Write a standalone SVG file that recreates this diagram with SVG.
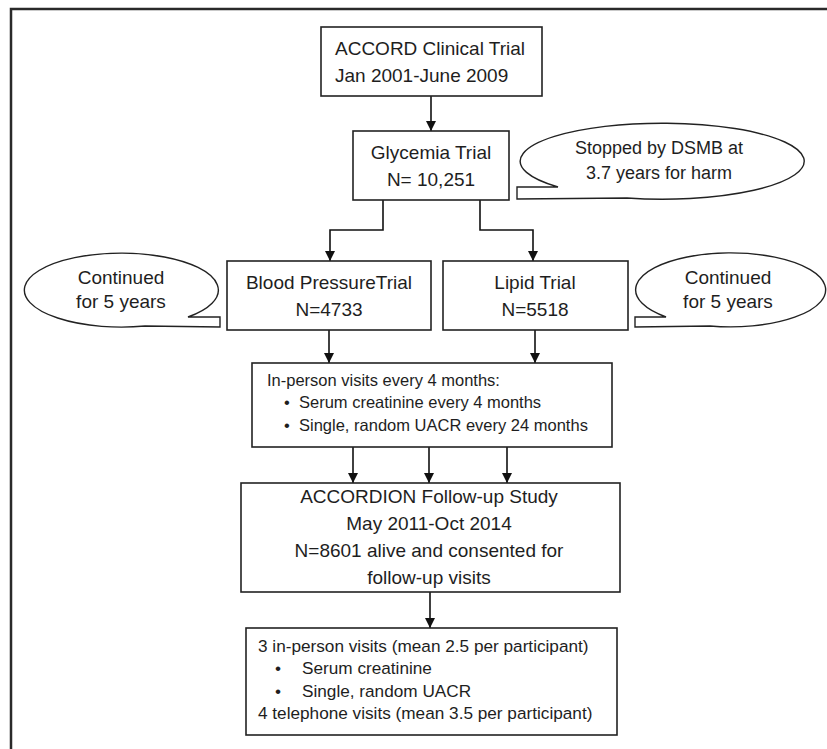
<svg xmlns="http://www.w3.org/2000/svg" width="827" height="749" viewBox="0 0 827 749">
<style>
  .box { fill: #ffffff; stroke: #222222; stroke-width: 1.6; }
  .call { fill: #ffffff; stroke: #222222; stroke-width: 1.4; stroke-linejoin: miter; }
  .frame { fill: none; stroke: #2a2a2a; stroke-width: 2.5; }
  .conn { fill: none; stroke: #111111; stroke-width: 1.6; }
  text { font-family: "Liberation Sans", Arial, sans-serif; fill: #1e1e1e; }
  .big { font-size: 19px; }
  .mid { font-size: 16.5px; }
  .fin { font-size: 17.2px; }
  .c { text-anchor: middle; }
</style>
<defs>
  <marker id="arrow" viewBox="0 0 10 10" refX="10" refY="5" markerWidth="10" markerHeight="10" markerUnits="userSpaceOnUse" orient="auto">
    <path d="M0,0 L10,5 L0,10 Z" fill="#111111"/>
  </marker>
</defs>
<rect x="0" y="0" width="827" height="749" fill="#ffffff"/>
<path class="frame" d="M11,749 V9 H827"/>

<g id="connectors">
  <path class="conn" d="M431,96 V131" marker-end="url(#arrow)"/>
  <path class="conn" d="M383,200 V230 H330 V261" marker-end="url(#arrow)"/>
  <path class="conn" d="M480,200 V230 H533 V261" marker-end="url(#arrow)"/>
  <path class="conn" d="M329,330 V363" marker-end="url(#arrow)"/>
  <path class="conn" d="M535,330 V363" marker-end="url(#arrow)"/>
  <path class="conn" d="M353,447 V483" marker-end="url(#arrow)"/>
  <path class="conn" d="M429,447 V483" marker-end="url(#arrow)"/>
  <path class="conn" d="M507,447 V483" marker-end="url(#arrow)"/>
  <path class="conn" d="M430,592 V628" marker-end="url(#arrow)"/>
</g>

<g id="accord">
  <rect class="box" x="321" y="27" width="221" height="69"/>
  <text class="big" x="335" y="55" font-size="19.5">ACCORD Clinical Trial</text>
  <text class="big" x="335" y="82" font-size="19.5">Jan 2001-June 2009</text>
</g>

<g id="glycemia">
  <rect class="box" x="353" y="131" width="156" height="69"/>
  <text class="big c" x="431" y="159">Glycemia Trial</text>
  <text class="big c" x="431" y="186">N= 10,251</text>
</g>

<g id="stopped-callout">
  <path class="call" d="M558,187 L517,187 L517,199 L627,198 A142,38 0 1 0 558,187 Z"/>
  <text class="c" x="659" y="154" font-size="18">Stopped by DSMB at</text>
  <text class="c" x="659" y="179" font-size="18">3.7 years for harm</text>
</g>

<g id="bp-trial">
  <rect class="box" x="227" y="261" width="204" height="69"/>
  <text class="big c" x="329" y="289">Blood PressureTrial</text>
  <text class="big c" x="329" y="316">N=4733</text>
</g>

<g id="lipid-trial">
  <rect class="box" x="443" y="261" width="185" height="69"/>
  <text class="big c" x="535" y="289">Lipid Trial</text>
  <text class="big c" x="535" y="316">N=5518</text>
</g>

<g id="left-callout">
  <path class="call" d="M188,317 L220,317 L220,327 L145,326 A97,37 0 1 1 188,317 Z"/>
  <text class="big c" x="121" y="284">Continued</text>
  <text class="big c" x="121" y="308">for 5 years</text>
</g>

<g id="right-callout">
  <path class="call" d="M666,317 L635,317 L635,327 L710,326 A95,37 0 1 0 666,317 Z"/>
  <text class="big c" x="728" y="284">Continued</text>
  <text class="big c" x="728" y="308">for 5 years</text>
</g>

<g id="in-person">
  <rect class="box" x="252" y="363" width="360" height="84"/>
  <text class="mid" x="267" y="386">In-person visits every 4 months:</text>
  <text class="mid" x="284" y="408">•</text>
  <text class="mid" x="299" y="408">Serum creatinine every 4 months</text>
  <text class="mid" x="284" y="431">•</text>
  <text class="mid" x="299" y="431">Single, random UACR every 24 months</text>
</g>

<g id="accordion">
  <rect class="box" x="241" y="483" width="379" height="109"/>
  <text class="big c" x="429" y="503">ACCORDION Follow-up Study</text>
  <text class="big c" x="429" y="530">May 2011-Oct 2014</text>
  <text class="big c" x="429" y="557">N=8601 alive and consented for</text>
  <text class="big c" x="429" y="584">follow-up visits</text>
</g>

<g id="followup-visits">
  <rect class="box" x="246" y="628" width="371" height="107"/>
  <text class="fin" x="258" y="652">3 in-person visits (mean 2.5 per participant)</text>
  <text class="fin" x="275" y="674">•</text>
  <text class="fin" x="302" y="674">Serum creatinine</text>
  <text class="fin" x="275" y="697">•</text>
  <text class="fin" x="302" y="697">Single, random UACR</text>
  <text class="fin" x="258" y="719">4 telephone visits (mean 3.5 per participant)</text>
</g>
</svg>
